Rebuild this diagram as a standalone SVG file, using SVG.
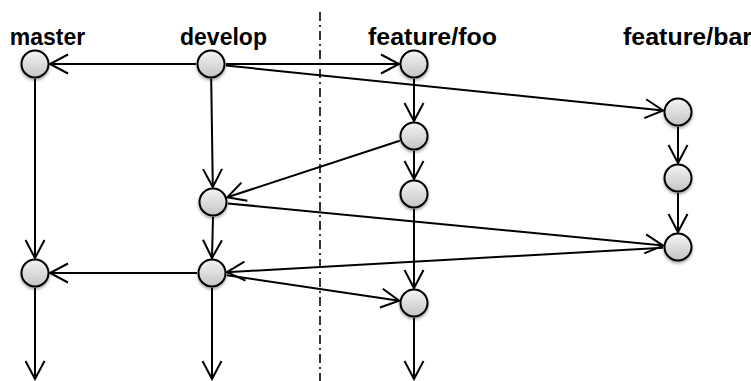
<svg xmlns="http://www.w3.org/2000/svg" width="751" height="381" viewBox="0 0 751 381">
<defs>
<linearGradient id="g" x1="0" y1="0" x2="0" y2="1">
<stop offset="0" stop-color="#f4f4f4"/>
<stop offset="1" stop-color="#c4c4c4"/>
</linearGradient>
<filter id="sh" x="-50%" y="-50%" width="200%" height="200%">
<feDropShadow dx="0" dy="2" stdDeviation="1.5" flood-color="#000" flood-opacity="0.35"/>
</filter>
<marker id="ah" markerUnits="userSpaceOnUse" markerWidth="24" markerHeight="24" viewBox="-21 -12 24 24" refX="0" refY="0" orient="auto" overflow="visible">
<path d="M-18,-9.5 L0,0 L-18,9.5" fill="none" stroke="#000" stroke-width="2"/>
</marker>
</defs>
<style>
.lbl{font-family:"Liberation Sans",Arial,sans-serif;font-weight:bold;font-size:23px;fill:#000}
.n{fill:url(#g);stroke:#000;stroke-width:2;filter:url(#sh)}
.c line{stroke:#000;stroke-width:2;marker-end:url(#ah)}
</style>
<rect width="751" height="381" fill="#fff"/>
<line x1="320" y1="12" x2="320" y2="381" stroke="#000" stroke-width="1.6" stroke-dasharray="9 4 2 4"/>
<g id="labels">
<text class="lbl" x="47.5" y="45" text-anchor="middle">master</text>
<text class="lbl" x="223.5" y="45" text-anchor="middle">develop</text>
<text class="lbl" x="368" y="45" textLength="129" lengthAdjust="spacingAndGlyphs">feature/foo</text>
<text class="lbl" x="623" y="45" textLength="129" lengthAdjust="spacingAndGlyphs">feature/bar</text>
</g>
<g id="connectors" class="c">
<line x1="196" y1="64" x2="50" y2="64"/>
<line x1="226" y1="64" x2="399" y2="64"/>
<line x1="225.9" y1="65.5" x2="663.1" y2="110.5"/>
<line x1="211.2" y1="79" x2="212.8" y2="187"/>
<line x1="414" y1="79" x2="414" y2="121"/>
<line x1="399.7" y1="140.7" x2="227.3" y2="197.3"/>
<line x1="414" y1="151" x2="414" y2="179"/>
<line x1="227.9" y1="203.4" x2="663.1" y2="245.6"/>
<line x1="678" y1="127" x2="678" y2="163"/>
<line x1="678" y1="193" x2="678" y2="232"/>
<line x1="213" y1="217" x2="212" y2="258"/>
<line x1="35" y1="79" x2="35" y2="258"/>
<line x1="663" y1="247.8" x2="227" y2="272.2"/>
<line x1="226.8" y1="275.2" x2="399.2" y2="300.8"/>
<line x1="414" y1="209" x2="414" y2="288"/>
<line x1="197" y1="273" x2="50" y2="273"/>
<line x1="35" y1="288" x2="35" y2="379"/>
<line x1="212" y1="288" x2="212" y2="379"/>
<line x1="414" y1="318" x2="414" y2="379"/>
</g>
<g id="master1"><circle class="n" cx="35" cy="64" r="13.5"/></g>
<g id="master2"><circle class="n" cx="35" cy="273" r="13.5"/></g>
<g id="develop1"><circle class="n" cx="211" cy="64" r="13.5"/></g>
<g id="develop2"><circle class="n" cx="213" cy="202" r="13.5"/></g>
<g id="develop3"><circle class="n" cx="212" cy="273" r="13.5"/></g>
<g id="foo1"><circle class="n" cx="414" cy="64" r="13.5"/></g>
<g id="foo2"><circle class="n" cx="414" cy="136" r="13.5"/></g>
<g id="foo3"><circle class="n" cx="414" cy="194" r="13.5"/></g>
<g id="foo4"><circle class="n" cx="414" cy="303" r="13.5"/></g>
<g id="bar1"><circle class="n" cx="678" cy="112" r="13.5"/></g>
<g id="bar2"><circle class="n" cx="678" cy="178" r="13.5"/></g>
<g id="bar3"><circle class="n" cx="678" cy="247" r="13.5"/></g>
</svg>
